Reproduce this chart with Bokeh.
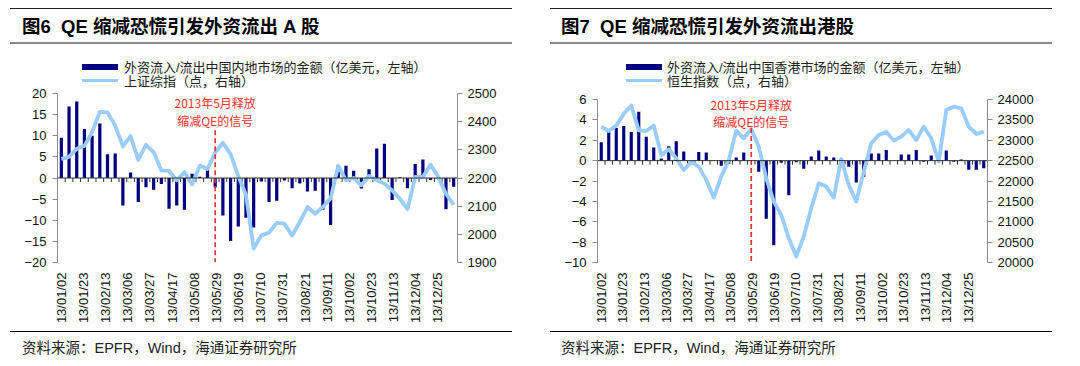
import math
from bokeh.plotting import figure
from bokeh.models import (Range1d, LinearAxis, FixedTicker, Label, Div, Span)
from bokeh.layouts import row, column
from bokeh.embed import file_html
from bokeh.resources import INLINE

# ---------------- data ----------------
tick_labels = ["13/01/02", "13/01/23", "13/02/13", "13/03/06", "13/03/27", "13/04/17",
               "13/05/08", "13/05/29", "13/06/19", "13/07/10", "13/07/31", "13/08/21",
               "13/09/11", "13/10/02", "13/10/23", "13/11/13", "13/12/04", "13/12/25"]

# weekly foreign flows into mainland China equities (100m USD, left axis)
a_flow = [9.5, 16.9, 18.1, 11.6, 10.0, 12.9, 5.6, 5.8, -6.5, 1.3,
          -5.7, -2.2, -2.8, -1.4, -7.3, -6.5, -7.5, 1.0, 0.3, 2.4,
          -2.2, -8.9, -14.9, -11.5, -9.4, -11.7, -0.8, -5.7, -5.4, -0.6,
          -2.4, -1.3, -3.2, -3.0, -7.5, -11.1, 3.0, 2.9, 1.7, -2.5,
          2.1, 7.0, 8.1, -5.2, 0.2, -2.4, 3.3, 4.4, -0.5, -0.3,
          -7.4, -2.1]
# Shanghai Composite (points, right axis)
sh_index = [2268, 2275, 2304, 2314, 2363, 2435, 2433, 2386, 2312, 2349,
            2264, 2318, 2292, 2227, 2225, 2192, 2221, 2177, 2244, 2232,
            2290, 2325, 2285, 2207, 2140, 1950, 1996, 2006, 2041, 2038,
            1996, 2044, 2097, 2073, 2097, 2127, 2243, 2192, 2200, 2174,
            2207, 2192, 2180, 2156, 2127, 2089, 2204, 2204, 2247, 2204,
            2144, 2105]

# weekly foreign flows into Hong Kong equities (100m USD, left axis)
hk_flow = [1.8, 2.8, 3.2, 3.4, 2.8, 4.8, 2.35, 1.3, 0.2, 1.4,
           1.9, 0.9, 0.0, 0.85, 0.8, 0.0, -0.5, -0.3, 0.3, 0.8,
           0.0, -1.1, -5.7, -8.3, -0.2, -3.4, -0.15, -0.8, 0.4, 1.0,
           0.4, 0.3, 0.1, -0.6, -2.15, -1.6, 0.7, 0.7, 1.05, 0.0,
           0.6, 0.6, 1.05, -0.1, 0.5, 0.2, 1.0, -0.1, 0.1, -0.9,
           -0.9, -0.75]
# Hang Seng Index (points, right axis)
hs_index = [23333, 23227, 23358, 23652, 23850, 23242, 23227, 23360, 22630, 22778,
            22557, 22271, 22475, 22353, 22026, 21593, 22108, 22516, 23235, 23047,
            23276, 22843, 22067, 21495, 21168, 20596, 20147, 20637, 21332, 21944,
            21863, 21593, 22540, 21904, 21495, 22230, 22925, 23129, 23211, 22990,
            23088, 23252, 23006, 23333, 23047, 22475, 23742, 23824, 23783, 23333,
            23154, 23211]

a_left_ticks = [-20, -15, -10, -5, 0, 5, 10, 15, 20]
a_right_ticks = [1900, 2000, 2100, 2200, 2300, 2400, 2500]
hk_left_ticks = [-10, -8, -6, -4, -2, 0, 2, 4, 6]
hk_right_ticks = [20000, 20500, 21000, 21500, 22000, 22500, 23000, 23500, 24000]

signal_week = 20
signal_text = ["2013年5月释放", "缩减QE的信号"]

NAVY = "#000080"
LIGHT = "#99CCFF"
RED = "#FF3030"
CJK = "Noto Sans CJK SC"
LAT = "Liberation Sans"
LABEL_STEP = 2.88  # week-index distance between consecutive date labels
FIG_H = 246


def make_chart(flows, index, lticks, rticks,
               mb_left, mb_right, mb_top, mb_bottom, frame_h, dash_top, ann_y):
    n = len(flows)
    lo, hi = lticks[0], lticks[-1]
    p = figure(width=532, height=FIG_H, x_range=Range1d(-0.5, n - 0.5),
               y_range=Range1d(lo, hi), output_backend="svg",
               toolbar_location=None, min_border_left=mb_left,
               min_border_right=mb_right, min_border_top=mb_top,
               min_border_bottom=mb_bottom, margin=0)
    p.grid.visible = False
    p.outline_line_color = None
    p.background_fill_color = "white"
    p.border_fill_alpha = 0
    p.extra_y_ranges = {"r": Range1d(rticks[0], rticks[-1])}

    idx = list(range(n))
    p.vbar(x=idx, top=flows, bottom=0, width=0.42, fill_color=NAVY, line_color=None)

    # category axis drawn at zero with ticks between weeks
    p.add_layout(Span(location=0, dimension="width", line_color="#333333", line_width=1))
    tick_units = 4.0 * (hi - lo) / frame_h
    bounds = [i - 0.5 for i in range(n + 1)]
    p.segment(x0=bounds, y0=[0] * len(bounds), x1=bounds, y1=[-tick_units] * len(bounds),
              line_color="#333333", line_width=1)

    p.line(x=idx, y=index, y_range_name="r", line_color=LIGHT, line_width=3.8,
           line_join="round")

    p.segment(x0=[signal_week], y0=[dash_top], x1=[signal_week], y1=[lo],
              line_color=RED, line_width=1.7, line_dash="5 3")
    for t, yy in zip(signal_text, ann_y):
        p.add_layout(Label(x=signal_week, y=yy, text=t, text_align="center",
                           text_baseline="middle", text_color=RED,
                           text_font=CJK, text_font_size="12px"))

    # bottom date labels
    tick_pos = [round(k * LABEL_STEP, 3) for k in range(len(tick_labels))]
    xa = p.xaxis[0]
    xa.ticker = FixedTicker(ticks=tick_pos)
    xa.major_label_overrides = {tp: lab for tp, lab in zip(tick_pos, tick_labels)}
    xa.axis_line_color = None
    xa.major_tick_line_color = None
    xa.minor_tick_line_color = None
    xa.major_tick_out = 0
    xa.major_tick_in = 0
    xa.major_label_orientation = math.pi / 2
    xa.major_label_standoff = 10
    xa.major_label_text_font = LAT
    xa.major_label_text_font_size = "13px"
    xa.major_label_text_color = "#111111"

    ya = p.yaxis[0]
    ya.ticker = FixedTicker(ticks=lticks)
    ya.axis_line_color = "#8c8c8c"
    ya.major_tick_line_color = "#8c8c8c"
    ya.minor_tick_line_color = None
    ya.major_tick_out = 5
    ya.major_tick_in = 0
    ya.major_label_standoff = 6
    ya.major_label_text_font = LAT
    ya.major_label_text_font_size = "13px"
    ya.major_label_text_color = "#111111"

    ra = LinearAxis(y_range_name="r", ticker=FixedTicker(ticks=rticks),
                    axis_line_color="#8c8c8c", major_tick_line_color="#8c8c8c",
                    minor_tick_line_color=None, major_tick_out=5, major_tick_in=0,
                    major_label_standoff=5, major_label_text_font=LAT,
                    major_label_text_font_size="13px", major_label_text_color="#111111")
    p.add_layout(ra, "right")
    return p


FONT_STACK = "'Liberation Sans','Noto Sans CJK SC',sans-serif"


def title_div(text, ml, pl):
    html = ('<div style="margin-left:%dpx;width:%dpx;height:31px;padding-top:2px;'
            'padding-left:%dpx;border-top:1.5px solid #222;border-bottom:2px solid #8a8a8a;'
            'line-height:31px;font-family:%s;'
            'font-weight:bold;font-size:18.5px;color:#000;white-space:nowrap;'
            'box-sizing:content-box;">%s</div>') % (ml, 502 - pl, pl, FONT_STACK, text)
    return Div(text=html, width=532, height=37, margin=0)


def legend_div(bar_label, line_label, gx, tx):
    html = ('<div style="position:relative;width:532px;height:40px;overflow:visible;'
            'font-family:%s;font-size:13px;color:#222;">'
            '<div style="position:absolute;left:%dpx;top:19.3px;width:36px;height:5.4px;'
            'background:%s;"></div>'
            '<div style="position:absolute;left:%dpx;top:14.5px;height:15px;line-height:15px;'
            'white-space:nowrap;">%s</div>'
            '<div style="position:absolute;left:%dpx;top:33.6px;width:36px;height:3.8px;'
            'background:%s;"></div>'
            '<div style="position:absolute;left:%dpx;top:28.5px;height:15px;line-height:15px;'
            'white-space:nowrap;">%s</div></div>') % (
        FONT_STACK, gx, NAVY, tx, bar_label, gx, LIGHT, tx, line_label)
    return Div(text=html, width=532, height=40, margin=0,
               styles={"overflow": "visible", "z-index": "2"})


def foot_div(text, ml, pl):
    html = ('<div style="margin-left:%dpx;width:%dpx;height:20px;padding-top:6px;'
            'padding-left:%dpx;border-top:1px solid #000;line-height:20px;'
            'font-family:%s;'
            'font-size:14.5px;color:#222;white-space:nowrap;box-sizing:content-box;">%s</div>'
            ) % (ml, 502 - pl, pl, FONT_STACK, text)
    return Div(text=html, width=532, height=27, margin=0)


p1 = make_chart(a_flow, sh_index, a_left_ticks, a_right_ticks,
                49, 83, 8, 69, 169, 11.3, [17.8, 13.5])
p2 = make_chart(hk_flow, hs_index, hk_left_ticks, hk_right_ticks,
                57, 85, 14, 69, 163, 3.2, [5.5, 3.8])

src = "资料来源：EPFR，Wind，海通证券研究所"
left = column(title_div("图6&nbsp;&nbsp;QE 缩减恐慌引发外资流出 A 股", 2, 12),
              legend_div("外资流入/流出中国内地市场的金额（亿美元，左轴）",
                         "上证综指（点，右轴）", 74, 116),
              p1, foot_div(src, 2, 12), spacing=0)
right = column(title_div("图7&nbsp;&nbsp;QE 缩减恐慌引发外资流出港股", 10, 11),
               legend_div("外资流入/流出中国香港市场的金额（亿美元，左轴）",
                          "恒生指数（点，右轴）", 86, 127),
               p2, foot_div(src, 10, 11), spacing=0)
layout = row(left, right, spacing=0, margin=(8, 8, 8, 8))

open("out.html", "w").write(file_html(layout, INLINE))
